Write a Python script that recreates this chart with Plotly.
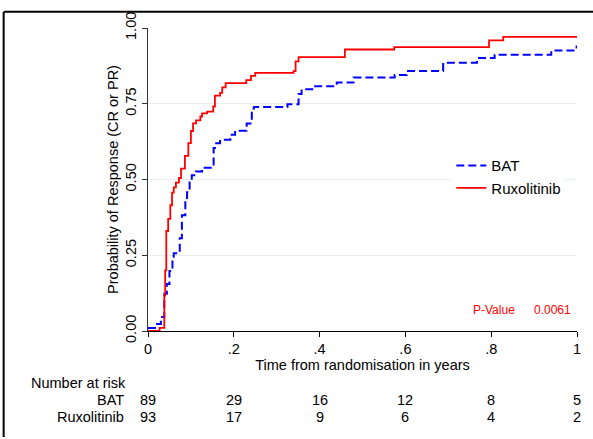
import plotly.graph_objects as go

# ---- data ----
rux_t = [0, 0.027, 0.038, 0.040, 0.0426, 0.047, 0.052, 0.056, 0.060, 0.065, 0.072, 0.077,
         0.086, 0.094, 0.100, 0.105, 0.112, 0.122, 0.126, 0.138, 0.152, 0.156, 0.168, 0.173,
         0.181, 0.229, 0.240, 0.250, 0.339, 0.344, 0.351, 0.459, 0.574, 0.795, 0.828, 1.0]
rux_p = [0, 0.01, 0.117, 0.20, 0.33, 0.37, 0.415, 0.457, 0.474, 0.49, 0.505, 0.536,
         0.578, 0.62, 0.66, 0.685, 0.695, 0.708, 0.718, 0.724, 0.741, 0.777, 0.786, 0.804,
         0.818, 0.828, 0.842, 0.852, 0.858, 0.89, 0.904, 0.929, 0.937, 0.959, 0.971, 0.971]

bat_t = [0, 0.021, 0.030, 0.038, 0.044, 0.050, 0.057, 0.060, 0.074, 0.079, 0.087, 0.091,
         0.097, 0.102, 0.112, 0.126, 0.153, 0.159, 0.168, 0.192, 0.203, 0.230, 0.242, 0.247,
         0.325, 0.351, 0.358, 0.386, 0.440, 0.479, 0.575, 0.603, 0.688, 0.767, 0.808, 0.940,
         0.999, 1.0]
bat_p = [0.01, 0.023, 0.046, 0.123, 0.155, 0.198, 0.236, 0.257, 0.306, 0.382, 0.425, 0.458,
         0.497, 0.514, 0.526, 0.539, 0.604, 0.62, 0.631, 0.648, 0.661, 0.685, 0.734, 0.739,
         0.748, 0.782, 0.798, 0.808, 0.82, 0.837, 0.845, 0.858, 0.885, 0.901, 0.912, 0.926,
         0.939, 0.939]

risk_times = [0, 0.2, 0.4, 0.6, 0.8, 1.0]
risk_bat = [89, 29, 16, 12, 8, 5]
risk_rux = [93, 17, 9, 6, 4, 2]

x_ticks = [0, 0.2, 0.4, 0.6, 0.8, 1.0]
x_ticktext = ["0", ".2", ".4", ".6", ".8", "1"]
y_ticks = [0, 0.25, 0.5, 0.75, 1.0]
y_ticktext = ["0.00", "0.25", "0.50", "0.75", "1.00"]

p_value = "0.0061"

FONT = "Arial, Liberation Sans, sans-serif"

fig = go.Figure()
fig.add_trace(go.Scatter(x=bat_t, y=bat_p, mode="lines", name="BAT",
                         line=dict(color="#0000FF", width=2, dash="8px,4px", shape="hv")))
fig.add_trace(go.Scatter(x=rux_t, y=rux_p, mode="lines", name="Ruxolitinib",
                         line=dict(color="#FF0000", width=1.8, shape="hv")))

ann = []
ann.append(dict(text="P-Value", x=0.807, y=0.068, xref="x", yref="y", showarrow=False,
                font=dict(color="#FF0000", size=12, family=FONT)))
ann.append(dict(text=p_value, x=0.942, y=0.068, xref="x", yref="y", showarrow=False,
                font=dict(color="#FF0000", size=12, family=FONT)))
ann.append(dict(text="Number at risk", x=-0.278, y=-0.172, xref="paper", yref="paper",
                xanchor="left", yanchor="middle", showarrow=False,
                font=dict(size=14.5, color="black", family=FONT)))
ann.append(dict(text="BAT", x=-0.0513, y=-0.227, xref="paper", yref="paper",
                xanchor="right", yanchor="middle", showarrow=False,
                font=dict(size=14.5, color="black", family=FONT)))
ann.append(dict(text="Ruxolitinib", x=-0.0513, y=-0.2825, xref="paper", yref="paper",
                xanchor="right", yanchor="middle", showarrow=False,
                font=dict(size=14.5, color="black", family=FONT)))
for t, b, r in zip(risk_times, risk_bat, risk_rux):
    ann.append(dict(text=str(b), x=t, y=-0.227, xref="x", yref="paper", xanchor="center",
                    yanchor="middle", showarrow=False, font=dict(size=14.5, color="black", family=FONT)))
    ann.append(dict(text=str(r), x=t, y=-0.2825, xref="x", yref="paper", xanchor="center",
                    yanchor="middle", showarrow=False, font=dict(size=14.5, color="black", family=FONT)))

shapes = [
    dict(type="line", xref="paper", yref="paper", x0=-0.336, x1=1.05, y0=1.0535, y1=1.0535,
         line=dict(color="black", width=2)),
    dict(type="line", xref="paper", yref="paper", x0=-0.3365, x1=-0.3365, y0=1.0535, y1=-0.35,
         line=dict(color="black", width=2)),
]

fig.update_layout(
    width=593, height=439,
    margin=dict(l=148, r=16, t=23, b=108, pad=0),
    paper_bgcolor="white", plot_bgcolor="white",
    font=dict(family=FONT, size=14.5, color="black"),
    showlegend=True,
    legend=dict(x=0.707, y=0.60, xanchor="left", yanchor="top", bgcolor="white",
                borderwidth=0, font=dict(size=15, family=FONT), tracegroupgap=0,
                itemwidth=30),
    annotations=ann,
    shapes=shapes,
    xaxis=dict(range=[0, 1], tickmode="array", tickvals=x_ticks, ticktext=x_ticktext,
               ticks="outside", ticklen=5, tickcolor="black", showline=True,
               linecolor="black", linewidth=1, showgrid=False, zeroline=False,
               tickfont=dict(size=14.5),
               title=dict(text="Time from randomisation in years", standoff=0,
                          font=dict(size=14.5))),
    yaxis=dict(range=[0, 1], tickmode="array", tickvals=y_ticks, ticktext=y_ticktext,
               tickangle=-90, ticks="outside", ticklen=5, tickcolor="#333333",
               showline=True, linecolor="#333333", linewidth=1, showgrid=True,
               gridcolor="#E6EEF0", gridwidth=1, zeroline=False,
               tickfont=dict(size=14.5),
               title=dict(text="Probability of Response (CR or PR)", standoff=1,
                          font=dict(size=14.5))),
)

fig.write_html("out.html")
